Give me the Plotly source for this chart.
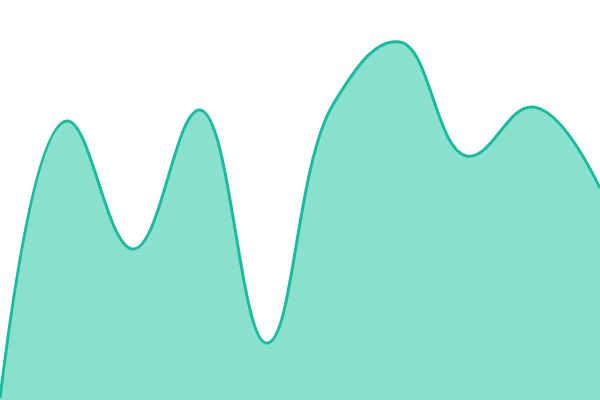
import plotly.graph_objects as go

x_vals = [0, 1, 2, 3, 4, 5, 6, 7, 8, 9]
y_vals = [2, 279, 151, 290, 57, 296, 358, 244, 293, 212]

fig = go.Figure()
fig.add_trace(go.Scatter(
    x=x_vals, y=y_vals, mode="lines",
    line=dict(shape="spline", smoothing=1.2, color="#1abc9c", width=3),
    fill="tozeroy", fillcolor="#8ae0cf",
    hoverinfo="skip",
))
fig.update_layout(
    width=600, height=400,
    margin=dict(l=0, r=0, t=0, b=0),
    paper_bgcolor="white", plot_bgcolor="white",
    showlegend=False,
    xaxis=dict(visible=False, range=[0, 9]),
    yaxis=dict(visible=False, range=[0, 400]),
)
fig.write_html(
    "out.html",
    config={"displayModeBar": False},
    post_script="document.body.style.margin='0';document.body.style.overflow='hidden';",
)
